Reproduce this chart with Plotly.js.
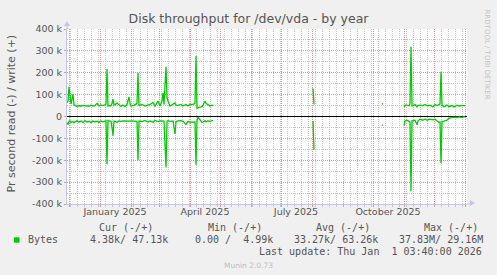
<!DOCTYPE html>
<html>
<head>
<meta charset="utf-8">
<script src="https://cdn.plot.ly/plotly-3.0.1.min.js"></script>
<style>
  html, body { margin: 0; padding: 0; background: #f0f0f0; }
  #chart { width: 497px; height: 275px; }
</style>
</head>
<body>
<div id="chart"></div>
<script>
// ---- Data (values in thousands of bytes per second) ----
const dates = [
  '2024-11-29','2024-11-30','2024-12-01','2024-12-02','2024-12-03','2024-12-04','2024-12-05','2024-12-06','2024-12-08','2024-12-09',
  '2024-12-11','2024-12-13','2024-12-15','2024-12-17','2024-12-19','2024-12-21','2024-12-23','2024-12-25','2024-12-27','2024-12-29',
  '2024-12-31','2025-01-02','2025-01-04','2025-01-06','2025-01-07','2025-01-08','2025-01-09','2025-01-10','2025-01-11','2025-01-12',
  '2025-01-13','2025-01-14','2025-01-15','2025-01-16','2025-01-18','2025-01-20','2025-01-22','2025-01-24','2025-01-26','2025-01-28',
  '2025-01-30','2025-01-31','2025-02-01','2025-02-04','2025-02-06','2025-02-07','2025-02-08','2025-02-09','2025-02-10','2025-02-12',
  '2025-02-15','2025-02-18','2025-02-20','2025-02-23','2025-02-25','2025-02-28','2025-03-02','2025-03-04','2025-03-05','2025-03-06',
  '2025-03-08','2025-03-09','2025-03-10','2025-03-12','2025-03-15','2025-03-17','2025-03-18','2025-03-20','2025-03-23','2025-03-25',
  '2025-03-28','2025-03-30','2025-04-01','2025-04-04','2025-04-06','2025-04-07','2025-04-08','2025-04-09','2025-04-11','2025-04-13',
  '2025-04-14','2025-04-16','2025-04-17','2025-04-19','2025-04-21','2025-04-23','2025-04-24',
  '2025-05-01',
  '2025-08-02','2025-08-03',
  '2025-09-01',
  '2025-10-10','2025-10-11',
  '2025-10-20',
  '2025-11-01','2025-11-02','2025-11-04','2025-11-06','2025-11-07','2025-11-08','2025-11-09','2025-11-10','2025-11-12','2025-11-14',
  '2025-11-15','2025-11-17','2025-11-20','2025-11-22','2025-11-24','2025-11-27','2025-11-30','2025-12-02','2025-12-04','2025-12-06',
  '2025-12-07','2025-12-08','2025-12-09','2025-12-10','2025-12-11','2025-12-14','2025-12-16','2025-12-19','2025-12-21','2025-12-24',
  '2025-12-26','2025-12-29','2025-12-31','2026-01-01'
];
const writeK = [
  64, 70, 136, 75, 57, 80, 102, 53, 48, 46,
  50, 47, 51, 49, 50, 47, 52, 48, 50, 60,
  49, 53, 50, 55, 56, 217, 48, 50, 48, 49,
  60, 80, 52, 55, 61, 54, 46, 52, 45, 55,
  90, 60, 48, 51, 55, 60, 200, 48, 52, 55,
  48, 52, 55, 64, 48, 70, 48, 70, 107, 55,
  227, 90, 70, 48, 56, 62, 52, 51, 55, 48,
  55, 48, 55, 55, 60, 277, 38, 40, 41, 45,
  52, 71, 60, 52, 48, 52, 51,
  null,
  129, 56,
  null,
  60, 56,
  null,
  44, 52, 52, 49, 60, 319, 49, 49, 55, 44,
  50, 52, 50, 55, 49, 52, 44, 55, 50, 57,
  57, 204, 50, 49, 44, 52, 45, 50, 44, 52,
  48, 50, 49, 50
];
const readK = [
  27, 38, 22, 20, 27, 25, 24, 28, 22, 19,
  26, 21, 28, 19, 25, 22, 28, 21, 24, 22,
  27, 21, 24, 18, 19, 218, 18, 20, 21, 22,
  50, 88, 21, 22, 26, 20, 22, 20, 21, 20,
  20, 21, 20, 20, 20, 22, 200, 21, 20, 23,
  18, 25, 20, 26, 18, 23, 20, 22, 20, 21,
  233, 21, 19, 22, 20, 80, 24, 20, 19, 22,
  36, 22, 26, 24, 25, 221, 20, 3, 15, 27,
  25, 20, 24, 20, 22, 21, 18,
  null,
  20, 152,
  null,
  39, 40,
  null,
  42, 20, 17, 20, 25, 343, 20, 19, 17, 38,
  20, 12, 17, 11, 17, 12, 15, 12, 20, 27,
  25, 213, 22, 20, 21, 17, 7, 5, 3, 5,
  2, 5, 1, 3
];
const monthStarts = ['2024-12-01','2025-01-01','2025-02-01','2025-03-01','2025-04-01','2025-05-01','2025-06-01',
  '2025-07-01','2025-08-01','2025-09-01','2025-10-01','2025-11-01','2025-12-01','2026-01-01'];
const labelDates = ['2025-01-16','2025-04-16','2025-07-16','2025-10-16'];
const labelTexts = ['January 2025','April 2025','July 2025','October 2025'];
const yTickVals = [-400,-300,-200,-100,0,100,200,300,400];
const yTickText = ['-400 k','-300 k','-200 k','-100 k','0','100 k','200 k','300 k','400 k'];
const legendHeaders = ['Cur (-/+)','Min (-/+)','Avg (-/+)','Max (-/+)'];
const legendValues = ['4.38k/ 47.13k','0.00 /  4.99k','33.27k/ 63.26k','37.83M/ 29.16M'];
const seriesName = 'Bytes';
const lastUpdate = 'Last update: Thu Jan  1 03:40:00 2026';

// ---- Layout helpers (pixel -> paper) ----
const L = 67, T = 29, PW = 400, PH = 175;
const px = x => (x - L) / PW;
const py = y => (T + PH - y) / PH;
const nb = s => s.replace(/ /g, '\u00A0');

const GREEN = '#00cc00';
const MAJ = '#e59494';
const MIN = '#c6c6c6';
const AXIS = '#c4c4ee';
const TXT = '#555555';
const xRange = ['2024-11-29', '2026-01-03'];

const traces = [
  { x: dates, y: writeK, type: 'scatter', mode: 'lines', line: { color: GREEN, width: 1.3 },
    connectgaps: false, hoverinfo: 'skip', showlegend: false },
  { x: dates, y: readK.map(v => v === null ? null : -v), type: 'scatter', mode: 'lines',
    line: { color: GREEN, width: 1.3 }, connectgaps: false, hoverinfo: 'skip', showlegend: false },
  { x: labelDates, y: labelDates.map(() => null), xaxis: 'x2', type: 'scatter', mode: 'lines',
    hoverinfo: 'skip', showlegend: false }
];

const mono = { family: 'DejaVu Sans Mono', size: 10, color: TXT };
const annotations = [];
const hdrX = [98.3, 206.7, 315, 422.7];
legendHeaders.forEach((t, i) => annotations.push({ text: nb(t), x: px(hdrX[i]), y: py(227.7), xanchor: 'left', yanchor: 'middle' }));
annotations.push({ text: seriesName, x: px(26.7), y: py(239.7), xanchor: 'left', yanchor: 'middle' });
const valX = [89.3, 194.3, 293.3, 398.3];
legendValues.forEach((t, i) => annotations.push({ text: nb(t), x: px(valX[i]), y: py(239.7), xanchor: 'left', yanchor: 'middle' }));
annotations.push({ text: nb(lastUpdate), x: px(482.7), y: py(251.7), xanchor: 'right', yanchor: 'middle' });
annotations.forEach(a => { a.xref = 'paper'; a.yref = 'paper'; a.showarrow = false; a.font = mono; a.borderpad = 0; });

annotations.push({ text: 'Pr second read (-) / write (+)', xref: 'paper', yref: 'paper', x: px(10.5), y: py(114),
  textangle: -90, showarrow: false, xanchor: 'center', yanchor: 'middle', borderpad: 0,
  font: { family: 'DejaVu Sans', size: 11, color: TXT } });
annotations.push({ text: 'RRDTOOL / TOBI OETIKER', xref: 'paper', yref: 'paper', x: px(486.5), y: py(54),
  textangle: 90, showarrow: false, xanchor: 'center', yanchor: 'middle', borderpad: 0,
  font: { family: 'DejaVu Sans', size: 7, color: '#c4c4c4' } });
annotations.push({ text: 'Munin 2.0.73', xref: 'paper', yref: 'paper', x: px(248), y: py(265),
  showarrow: false, xanchor: 'center', yanchor: 'middle', borderpad: 0,
  font: { family: 'DejaVu Sans', size: 7.5, color: '#bdbdbd' } });

const shapes = [
  { type: 'rect', xref: 'paper', yref: 'paper', x0: px(14), x1: px(19.5), y0: py(242.7), y1: py(237.3),
    fillcolor: GREEN, line: { width: 0 } },
  { type: 'line', xref: 'paper', yref: 'paper', x0: 1, x1: px(471), y0: 0, y1: 0, line: { color: AXIS, width: 1 } },
  { type: 'path', xref: 'paper', yref: 'paper', path: `M ${px(470)} ${py(200)} L ${px(475)} ${py(203)} L ${px(470)} ${py(206)} Z`,
    fillcolor: AXIS, line: { width: 0 } },
  { type: 'line', xref: 'paper', yref: 'paper', x0: 0, x1: 0, y0: 1, y1: py(25), line: { color: AXIS, width: 1 } },
  { type: 'path', xref: 'paper', yref: 'paper', path: `M ${px(64)} ${py(26)} L ${px(67)} ${py(21)} L ${px(70)} ${py(26)} Z`,
    fillcolor: AXIS, line: { width: 0 } }
];

const layout = {
  width: 497, height: 275,
  margin: { l: L, r: 497 - L - PW, t: T, b: 275 - T - PH, pad: 0 },
  paper_bgcolor: '#f0f0f0', plot_bgcolor: '#ffffff',
  showlegend: false,
  title: { text: 'Disk throughput for /dev/vda - by year', x: 0.5, xref: 'container', xanchor: 'center',
    y: 1 - 19 / 275, yref: 'container', yanchor: 'middle',
    font: { family: 'DejaVu Sans', size: 12.5, color: TXT } },
  xaxis: {
    type: 'date', range: xRange, fixedrange: true,
    tickmode: 'array', tickvals: monthStarts, showticklabels: false,
    showgrid: true, gridcolor: MAJ, griddash: '1px,1px', gridwidth: 1,
    ticks: 'outside', ticklen: 2, tickcolor: MAJ,
    minor: { dtick: 7 * 86400000, tick0: '2024-12-02', showgrid: true, gridcolor: MIN, griddash: '1px,1px',
      ticks: 'outside', ticklen: 2, tickcolor: MIN },
    showline: true, linecolor: AXIS, linewidth: 1, zeroline: false
  },
  xaxis2: {
    type: 'date', range: xRange, overlaying: 'x', anchor: 'y', side: 'bottom', fixedrange: true,
    tickmode: 'array', tickvals: labelDates, ticktext: labelTexts,
    showgrid: false, ticks: '', showline: false, zeroline: false,
    tickfont: { family: 'DejaVu Sans', size: 9.5, color: TXT }
  },
  yaxis: {
    range: [-400, 400], fixedrange: true,
    tickmode: 'array', tickvals: yTickVals, ticktext: yTickText,
    tickfont: { family: 'DejaVu Sans', size: 9.5, color: TXT },
    showgrid: true, gridcolor: MAJ, griddash: '1px,1px', gridwidth: 1,
    ticks: 'outside', ticklen: 2, tickcolor: MAJ,
    minor: { dtick: 50, showgrid: true, gridcolor: MIN, griddash: '1px,1px' },
    zeroline: true, zerolinecolor: '#000000', zerolinewidth: 1,
    showline: true, linecolor: AXIS, linewidth: 1
  },
  annotations: annotations,
  shapes: shapes
};

Plotly.newPlot('chart', traces, layout, { staticPlot: true, displayModeBar: false });
</script>
</body>
</html>
